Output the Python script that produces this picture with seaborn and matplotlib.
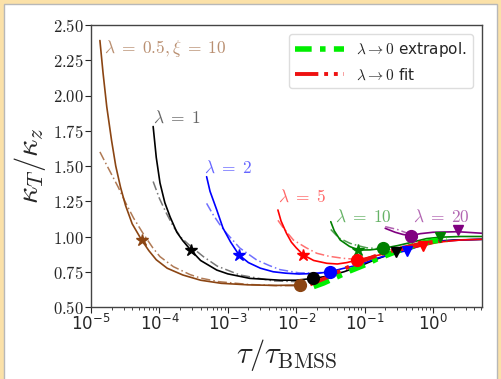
import numpy as np
import pandas as pd
import matplotlib
matplotlib.use("Agg")
import matplotlib.pyplot as plt
from matplotlib.patches import Rectangle
from matplotlib.ticker import FuncFormatter, LogLocator, NullFormatter
import seaborn as sns

# ---------------- data ----------------
brown_x = [1.35e-5, 1.5e-5, 1.7e-5, 2.0e-5, 2.3e-5, 2.7e-5, 3.2e-5, 4.0e-5, 5.5e-5, 7e-5, 9e-5,
           1.3e-4, 2.2e-4, 4e-4, 8e-4, 2e-3, 5e-3, 1.14e-2]
brown_y = [2.39, 2.16, 1.92, 1.68, 1.50, 1.35, 1.22, 1.09, 0.975, 0.90, 0.835,
           0.775, 0.727, 0.69, 0.668, 0.657, 0.653, 0.656]
brown_fx = [1.35e-5, 1.6e-5, 2.0e-5, 2.5e-5, 3.2e-5, 4.2e-5, 5.8e-5, 8e-5, 1.02e-4, 1.6e-4,
            2.8e-4, 4e-4, 7.3e-4, 2e-3, 5e-3, 1.1e-2]
brown_fy = [1.60, 1.53, 1.44, 1.35, 1.24, 1.13, 1.02, 0.92, 0.857, 0.786,
            0.73, 0.705, 0.68, 0.66, 0.652, 0.65]

black_x = [8.1e-5, 9e-5, 1.02e-4, 1.2e-4, 1.43e-4, 1.8e-4, 2.2e-4, 2.87e-4, 4e-4, 6.9e-4, 1e-3,
           2.1e-3, 5.8e-3, 1.0e-2, 1.78e-2, 3e-2, 5e-2, 8.5e-2, 0.15, 0.29, 0.6, 1.0, 2.0, 5.2]
black_y = [1.78, 1.56, 1.38, 1.24, 1.14, 1.03, 0.97, 0.904, 0.83, 0.762, 0.735,
           0.703, 0.69, 0.69, 0.703, 0.72, 0.75, 0.79, 0.84, 0.89, 0.945, 0.965, 0.975, 0.98]
black_fx = [8.1e-5, 1e-4, 1.25e-4, 1.6e-4, 2.1e-4, 2.87e-4, 4.4e-4, 7e-4, 1.5e-3, 4.6e-3, 1.0e-2, 1.78e-2]
black_fy = [1.39, 1.27, 1.17, 1.07, 0.99, 0.93, 0.857, 0.79, 0.727, 0.685, 0.68, 0.69]

blue_x = [4.9e-4, 5.5e-4, 6.9e-4, 8.5e-4, 1.1e-3, 1.46e-3, 2e-3, 3e-3, 4.6e-3, 7e-3, 1.1e-2,
          2e-2, 3.1e-2, 5e-2, 8.5e-2, 0.15, 0.25, 0.41, 0.7, 1.2, 2.5, 5.2]
blue_y = [1.424, 1.32, 1.188, 1.06, 0.96, 0.869, 0.815, 0.775, 0.75, 0.74, 0.734,
          0.738, 0.75, 0.775, 0.80, 0.845, 0.875, 0.90, 0.94, 0.965, 0.975, 0.98]
blue_fx = [4.9e-4, 6e-4, 7.5e-4, 9.6e-4, 1.5e-3, 2.65e-3, 4e-3, 5.8e-3, 1.1e-2, 2e-2, 3.1e-2]
blue_fy = [1.235, 1.16, 1.09, 1.023, 0.918, 0.833, 0.795, 0.765, 0.742, 0.742, 0.75]

red_x = [5.4e-3, 6e-3, 7.2e-3, 8.5e-3, 1e-2, 1.27e-2, 1.8e-2, 2.8e-2, 4e-2, 5.5e-2, 7.8e-2,
         0.12, 0.21, 0.4, 0.72, 1.2, 2.5, 5.2]
red_y = [1.188, 1.11, 1.023, 0.96, 0.92, 0.869, 0.83, 0.81, 0.805, 0.815, 0.833,
         0.855, 0.88, 0.91, 0.935, 0.96, 0.975, 0.98]
red_fx = [5.4e-3, 6.5e-3, 9.1e-3, 1.4e-2, 2e-2, 3e-2, 4.9e-2, 7.8e-2]
red_fy = [1.115, 1.06, 0.975, 0.92, 0.881, 0.86, 0.845, 0.838]

green_x = [3.2e-2, 3.6e-2, 4.4e-2, 6e-2, 8.1e-2, 0.12, 0.187, 0.3, 0.5, 0.8, 1.26, 2.5, 5.2]
green_y = [1.105, 1.04, 0.975, 0.93, 0.904, 0.905, 0.916, 0.935, 0.96, 0.985, 0.995, 1.0, 1.0]
green_fx = [3.2e-2, 4.2e-2, 6.1e-2, 8e-2, 0.107, 0.15, 0.187]
green_fy = [1.05, 0.99, 0.952, 0.935, 0.92, 0.915, 0.916]

purple_x = [0.2, 0.28, 0.36, 0.47, 0.65, 1.0, 2.3, 5.2]
purple_y = [1.058, 1.03, 1.015, 1.005, 1.02, 1.03, 1.034, 1.023]
purple_fx = [0.2, 0.3, 0.47]
purple_fy = [1.07, 1.05, 1.015]

extrap_x = [1.8e-2, 2.5e-2, 4e-2, 6e-2, 9.6e-2, 0.15, 0.26, 0.4, 0.65, 1.0, 1.6]
extrap_y = [0.645, 0.67, 0.715, 0.755, 0.795, 0.84, 0.885, 0.918, 0.95, 0.968, 0.978]
fit0_x = [1.6e-2, 3e-2, 5e-2, 7.6e-2, 0.15, 0.3, 0.6, 1.0, 1.5]
fit0_y = [0.66, 0.715, 0.77, 0.81, 0.865, 0.91, 0.945, 0.962, 0.97]

# markers: (x, y) for star, circle, triangle of each lambda
star_x = [5.5e-5, 2.87e-4, 1.46e-3, 1.27e-2, 8.1e-2]
star_y = [0.975, 0.904, 0.869, 0.869, 0.904]
circ_x = [1.14e-2, 1.78e-2, 3.1e-2, 7.8e-2, 0.187, 0.47]
circ_y = [0.656, 0.703, 0.75, 0.833, 0.916, 1.005]
tri_x = [0.29, 0.41, 0.72, 1.26, 2.3]
tri_y = [0.89, 0.90, 0.935, 1.0, 1.046]

labels = [r"$\lambda\;=\;0.5,\xi\;=\;10$", r"$\lambda\;=\;1$", r"$\lambda\;=\;2$",
          r"$\lambda\;=\;5$", r"$\lambda\;=\;10$", r"$\lambda\;=\;20$"]
label_x = [1.55e-5, 8.05e-5, 4.5e-4, 5.4e-3, 3.7e-2, 0.51]
label_y = [2.335, 1.84, 1.486, 1.28, 1.138, 1.138]

colors = ["#8b4513", "black", "blue", "red", "green", "purple"]

# ---------------- style ----------------
sns.set_style("ticks")
plt.rcParams["mathtext.fontset"] = "cm"
plt.rcParams["font.family"] = ["DejaVu Sans"]

fig = plt.figure(figsize=(5.01, 3.79), dpi=100)
fig.patch.set_facecolor("#fbe1a8")
fig.patches.append(Rectangle((4 / 501, -0.01), 493 / 501, 375 / 379 + 0.01,
                             transform=fig.transFigure, facecolor="white",
                             edgecolor="#b8b8b8", lw=1.0, zorder=-1))
ax = fig.add_axes([91 / 501, 72 / 379, 391 / 501, 282 / 379])
ax.set_facecolor("white")

curves = [(brown_x, brown_y, brown_fx, brown_fy),
          (black_x, black_y, black_fx, black_fy),
          (blue_x, blue_y, blue_fx, blue_fy),
          (red_x, red_y, red_fx, red_fy),
          (green_x, green_y, green_fx, green_fy),
          (purple_x, purple_y, purple_fx, purple_fy)]

fit_colors = ["#b07a55", "#777777", "#7070ff", "#ff7070", "#50a050", "#b060b0"]

for (x, y, fx, fy), c, fc in zip(curves, colors, fit_colors):
    sns.lineplot(x=fx, y=fy, ax=ax, color=fc, lw=1.1, linestyle=(0, (6, 2, 1, 2)),
                 sort=False, estimator=None, zorder=2)
    sns.lineplot(x=x, y=y, ax=ax, color=c, lw=1.2, sort=False, estimator=None, zorder=2)

sns.lineplot(x=extrap_x, y=extrap_y, ax=ax, color="#00ee00", lw=4.0,
             linestyle=(0, (3, 1.5, 1, 1.5)), sort=False, estimator=None, zorder=3,
             label=r"$\lambda\rightarrow0$ extrapol.")
sns.lineplot(x=fit0_x, y=fit0_y, ax=ax, color="#ee1111", lw=2.8,
             linestyle=(0, (6, 1.5, 1, 1.5, 1, 1.5)), sort=False, estimator=None, zorder=3,
             label=r"$\lambda\rightarrow0$ fit")

for i in range(5):
    ax.plot(star_x[i], star_y[i], marker="*", ms=9, color=colors[i], zorder=5)
for i in range(6):
    ax.plot(circ_x[i], circ_y[i], marker="o", ms=8.5, color=colors[i], zorder=5)
for i in range(5):
    ax.plot(tri_x[i], tri_y[i], marker="v", ms=7, color=colors[i + 1], zorder=5)

for t, lx, ly, c in zip(labels, label_x, label_y, colors):
    ax.text(lx, ly, t, color=c, alpha=0.6, fontsize=12.5, ha="left", va="center")

ax.set_xscale("log")
ax.set_xlim(1e-5, 5.2)
ax.set_ylim(0.5, 2.5)
ax.set_yticks([0.5, 0.75, 1.0, 1.25, 1.5, 1.75, 2.0, 2.25, 2.5])
ax.yaxis.set_major_formatter(FuncFormatter(lambda v, p: r"$%.2f$" % v))
ax.xaxis.set_major_locator(LogLocator(base=10, numticks=12))
ax.xaxis.set_minor_locator(LogLocator(base=10, subs=np.arange(2, 10), numticks=12))
ax.xaxis.set_minor_formatter(NullFormatter())
ax.tick_params(axis="both", which="major", direction="out", length=4, width=0.8,
               labelsize=12, pad=1)
ax.tick_params(axis="x", which="minor", direction="out", length=2, width=0.6)
for s in ax.spines.values():
    s.set_color("#444444")
    s.set_linewidth(1.0)

ax.set_xlabel(r"$\tau/\tau_{\rm BMSS}$", fontsize=22, labelpad=2)
ax.set_ylabel(r"$\kappa_T/\kappa_z$", fontsize=22, labelpad=4)

leg = ax.legend(loc="upper right", fontsize=11, handlelength=3.2, framealpha=1,
                edgecolor="#dddddd", fancybox=True, borderaxespad=0.6)

fig.savefig("out.png", dpi=100, facecolor=fig.get_facecolor())
